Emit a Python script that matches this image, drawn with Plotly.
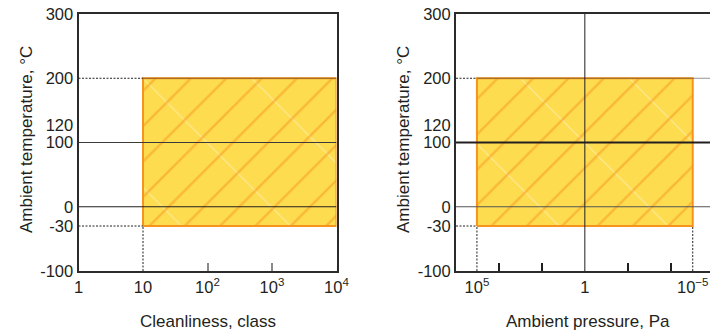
import plotly.graph_objects as go

# ---------------- data ----------------
temp_ticks = [300, 200, 120, 100, 0, -30, -100]
temp_tick_text = ["300", "200", "120", "100", "0", "-30", "-100"]
temp_range = [-100, 300]
temp_min, temp_max = -30, 200

clean_ticks = [1, 10, 100, 1000, 10000]
clean_tick_text = ["1", "10", "10<sup>2</sup>", "10<sup>3</sup>", "10<sup>4</sup>"]
clean_minor = [100, 1000]
clean_min, clean_max = 10, 10000

press_ticks = [1e5, 1, 1e-5]
press_tick_text = ["10<sup>5</sup>", "1", "10<sup>\u22125</sup>"]
press_minor = [1e4, 1e2, 1e-2, 1e-4]
press_min, press_max = 1e-5, 1e5

left_hlines = [100, 0]
right_hlines = [100, 0]
right_vlines = [1]

# ---------------- styles ----------------
W, H = 710, 333
INK = "#231f20"
YELLOW = "#fddc50"
ORANGE = "#f7941d"
FONT = "Liberation Sans, Arial, sans-serif"

def px_x(p):
    return p / W

def px_y(p):
    return 1 - p / H

# the original drawing sets the "120" label slightly higher than its tick
ytext = [t if t != "120" else "<span style='baseline-shift:4px'>120</span>" for t in temp_tick_text]

fig = go.Figure()

def add_region(xa, ya, x0, x1, y0, y1):
    xs = [x0, x1, x1, x0, x0]
    ys = [y0, y0, y1, y1, y0]
    fig.add_trace(go.Scatter(x=xs, y=ys, xaxis=xa, yaxis=ya, mode="none", fill="toself",
                             fillcolor=YELLOW,
                             fillpattern=dict(shape="\\", size=77, solidity=0.014,
                                              fgcolor="rgba(255,255,255,0.85)", bgcolor=YELLOW),
                             hoverinfo="skip", showlegend=False))
    fig.add_trace(go.Scatter(x=xs, y=ys, xaxis=xa, yaxis=ya, mode="lines", fill="toself",
                             fillcolor="rgba(0,0,0,0)",
                             fillpattern=dict(shape="/", size=25, solidity=0.095,
                                              fgcolor=ORANGE, bgcolor="rgba(0,0,0,0)"),
                             line=dict(color=ORANGE, width=2),
                             hoverinfo="skip", showlegend=False))

def add_line(xa, ya, xs, ys, color, width, dash="solid"):
    fig.add_trace(go.Scatter(x=xs, y=ys, xaxis=xa, yaxis=ya, mode="lines",
                             line=dict(color=color, width=width, dash=dash),
                             hoverinfo="skip", showlegend=False))

DOT = "2px,1.5px"
# left panel
add_region("x", "y", clean_min, clean_max, temp_min, temp_max)
add_line("x", "y", [clean_ticks[0], clean_min], [temp_max, temp_max], INK, 1, DOT)
add_line("x", "y", [clean_ticks[0], clean_min], [temp_min, temp_min], INK, 1, DOT)
add_line("x", "y", [clean_min, clean_min], [temp_range[0], temp_min], INK, 1, DOT)
add_line("x", "y", [clean_min, clean_max], [temp_max, temp_max], "rgba(70,50,40,0.55)", 1.2)
add_line("x", "y", [clean_ticks[0], clean_ticks[-1]], [left_hlines[0]] * 2, "#3a3a3a", 1)
add_line("x", "y", [clean_ticks[0], clean_ticks[-1]], [left_hlines[1]] * 2, INK, 1)

# right panel (runs past the right edge of the page, as in the original)
p_lo, p_hi = 10 ** 5.97, 10 ** -5.8
add_region("x2", "y2", press_max, press_min, temp_min, temp_max)
add_line("x2", "y2", [p_lo, press_max], [temp_max, temp_max], INK, 1, DOT)
add_line("x2", "y2", [p_lo, press_max], [temp_min, temp_min], INK, 1, DOT)
add_line("x2", "y2", [press_max, press_max], [temp_range[0], temp_min], INK, 1, DOT)
add_line("x2", "y2", [press_min, press_min], [temp_range[0], temp_min], INK, 1, DOT)
add_line("x2", "y2", [press_max, p_hi], [temp_max, temp_max], "rgba(70,60,55,0.55)", 1.2)
add_line("x2", "y2", [p_lo, p_hi], [right_hlines[0]] * 2, INK, 2)
add_line("x2", "y2", [p_lo, p_hi], [right_hlines[1]] * 2, "#555555", 1)
add_line("x2", "y2", [right_vlines[0]] * 2, temp_range, INK, 1)

tickfont = dict(family=FONT, size=16.5, color=INK)
yax = dict(range=temp_range, tickmode="array", tickvals=temp_ticks, ticktext=ytext,
           showgrid=False, zeroline=False, showline=True, linecolor="#2b2b2b", linewidth=2,
           ticks="", tickfont=tickfont, domain=[px_y(271), px_y(14)], automargin=False,
           ticklabeloverflow="allow")

fig.update_layout(
    width=W, height=H, margin=dict(l=0, r=0, t=0, b=0, pad=0),
    paper_bgcolor="white", plot_bgcolor="white",
    xaxis=dict(type="log", range=[0, 4], domain=[px_x(78.5), px_x(336.5)],
               tickmode="array", tickvals=clean_ticks, ticktext=clean_tick_text,
               showgrid=False, zeroline=False, showline=True, mirror=True, automargin=False,
               linecolor="#2b2b2b", linewidth=2, ticks="", tickfont=tickfont,
               ticklabeloverflow="allow",
               minor=dict(tickmode="array", tickvals=clean_minor, ticks="inside",
                          ticklen=8, tickwidth=1.5, tickcolor="#8a8a8a", showgrid=False)),
    yaxis=dict(yax, anchor="x", mirror=True),
    xaxis2=dict(type="log", range=[5.97, -5.8], domain=[px_x(456), 1], anchor="y2",
                tickmode="array", tickvals=press_ticks, ticktext=press_tick_text,
                showgrid=False, zeroline=False, showline=True, mirror=True, automargin=False,
                linecolor="#2b2b2b", linewidth=2, ticks="", tickfont=tickfont,
                ticklabeloverflow="allow",
                minor=dict(tickmode="array", tickvals=press_minor, ticks="inside",
                           ticklen=8, tickwidth=1.5, tickcolor=INK, showgrid=False)),
    yaxis2=dict(yax, anchor="x2", mirror=False),
    annotations=[
        dict(text="Cleanliness, class", x=px_x(208), y=px_y(321), xref="paper", yref="paper",
             xanchor="center", yanchor="middle",
             showarrow=False, font=dict(family=FONT, size=17, color=INK)),
        dict(text="Ambient pressure, Pa", x=px_x(587.5), y=px_y(321), xref="paper", yref="paper",
             xanchor="center", yanchor="middle",
             showarrow=False, font=dict(family=FONT, size=17, color=INK)),
        dict(text="Ambient temperature, \u00b0C", x=px_x(26), y=px_y(140), xref="paper", yref="paper",
             xanchor="center", yanchor="middle",
             showarrow=False, textangle=-90, font=dict(family=FONT, size=17, color=INK)),
        dict(text="Ambient temperature, \u00b0C", x=px_x(403), y=px_y(140), xref="paper", yref="paper",
             xanchor="center", yanchor="middle",
             showarrow=False, textangle=-90, font=dict(family=FONT, size=17, color=INK)),
    ],
)

# remove the page's default body margin so the 710x333 figure fills the window
fig.write_html("out.html", config={"displayModeBar": False},
               post_script="document.body.style.margin='0';document.body.style.overflow='hidden';")
